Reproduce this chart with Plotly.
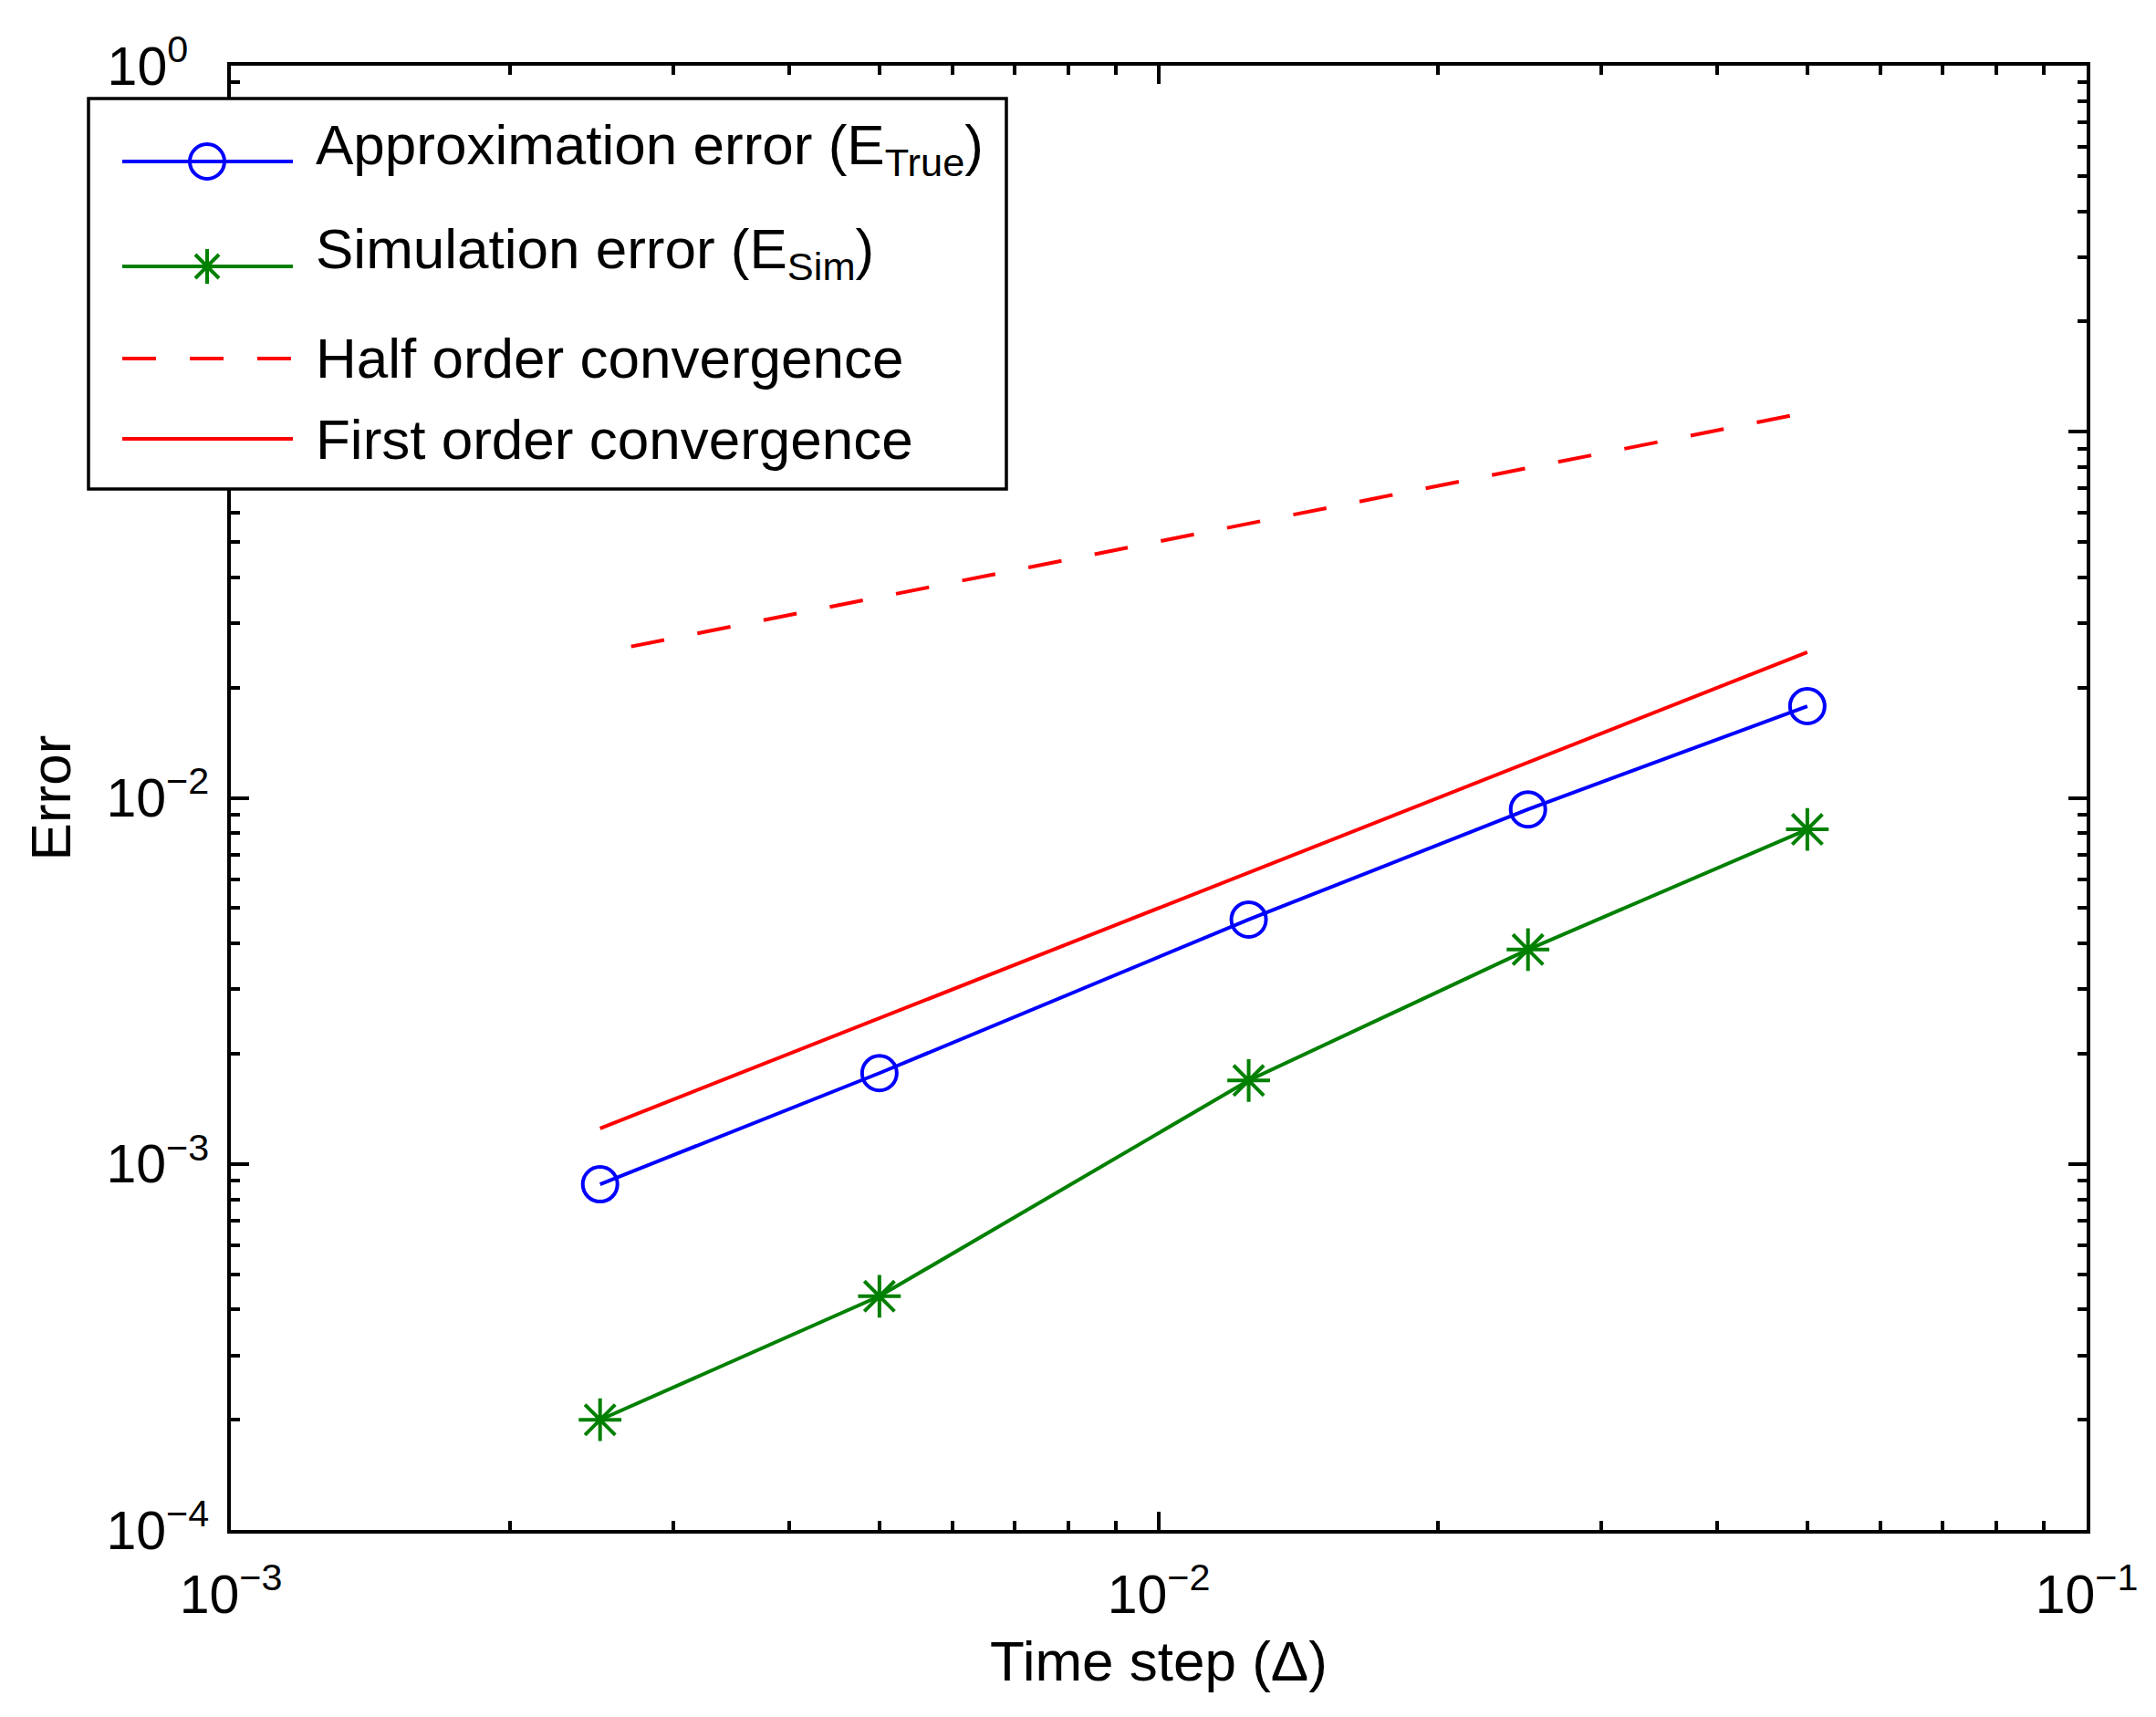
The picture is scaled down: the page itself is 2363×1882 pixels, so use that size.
import plotly.graph_objects as go

# time steps and measured errors
dt = [0.0025, 0.005, 0.0125, 0.025, 0.05]
err_true = [8.8e-4, 1.77e-3, 4.65e-3, 9.3e-3, 1.78e-2]
err_sim = [2.0e-4, 4.35e-4, 1.69e-3, 3.85e-3, 8.2e-3]

# reference slopes
half_x = [0.0027, 0.05]
half_y = [0.0259, 0.113]
first_x = [0.0025, 0.05]
first_y = [1.25e-3, 2.5e-2]

names = [
    "Approximation error (E<sub>True</sub>)",
    "Simulation error (E<sub>Sim</sub>)",
    "Half order convergence",
    "First order convergence",
]

x_decades = [1e-3, 1e-2, 1e-1]
x_labels = ["10<sup>\u22123</sup>", "10<sup>\u22122</sup>", "10<sup>\u22121</sup>"]
y_decades = [1e-4, 1e-3, 1e-2, 1e-1, 1e0]
y_labels = ["10<sup>\u22124</sup>", "10<sup>\u22123</sup>", "10<sup>\u22122</sup>", "",
            "10<sup>0\u2007</sup>"]

font = "Liberation Sans, Arial, Helvetica, sans-serif"
BLUE, GREEN, RED = "#0000ff", "#008000", "#ff0000"
LW = 4

# page has an 8px body margin, so the figure is a bit smaller than the window
OFF = 8
W, H = 2355, 1874
L, R, T, B = 245, 76, 64, 205
PW, PH = W - L - R, H - T - B


def px(x):
    return (x - OFF - L) / PW


def py(y):
    return 1 - (y - OFF - T) / PH


x_minor = [m * d for d in x_decades[:-1] for m in range(2, 10)]
y_minor = [m * d for d in y_decades[:-1] for m in range(2, 10)]

fig = go.Figure()
fig.add_trace(go.Scatter(
    x=dt, y=err_true, mode="lines+markers", name=names[0],
    line=dict(color=BLUE, width=LW),
    marker=dict(symbol="circle-open", size=38, color=BLUE, line=dict(width=LW)),
))
fig.add_trace(go.Scatter(
    x=dt, y=err_sim, mode="lines+markers", name=names[1],
    line=dict(color=GREEN, width=LW),
    marker=dict(symbol="asterisk-open", size=39, color=GREEN, line=dict(width=LW, color=GREEN)),
))
fig.add_trace(go.Scatter(
    x=half_x, y=half_y, mode="lines", name=names[2],
    line=dict(color=RED, width=LW, dash="37px,37px"),
))
fig.add_trace(go.Scatter(
    x=first_x, y=first_y, mode="lines", name=names[3],
    line=dict(color=RED, width=LW),
))

axis_common = dict(
    type="log", showline=True, linecolor="black", linewidth=4, mirror="allticks",
    ticks="inside", ticklen=20, tickwidth=3.5, tickcolor="black",
    showgrid=False, zeroline=False, tickmode="array",
    tickfont=dict(family=font, size=59, color="black"),
)
minor_common = dict(tickmode="array", ticks="inside", ticklen=10,
                    tickwidth=3.5, tickcolor="black", showgrid=False)

fig.update_xaxes(
    **axis_common, range=[-3, -1], tickvals=x_decades, ticktext=x_labels,
    ticklabelstandoff=16,
    minor=dict(**minor_common, tickvals=x_minor),
    title=dict(text="Time step (\u0394)", font=dict(family=font, size=62, color="black"), standoff=20),
)
fig.update_yaxes(
    **axis_common, range=[-4, 0], tickvals=y_decades, ticktext=y_labels,
    ticklabelstandoff=8,
    minor=dict(**minor_common, tickvals=y_minor),
    title=dict(text="Error", font=dict(family=font, size=62, color="black"), standoff=20),
)

# hand-drawn legend box (MATLAB style, full-size markers)
shapes = [dict(
    type="rect", xref="paper", yref="paper", layer="above",
    x0=px(97), x1=px(1103), y0=py(536), y1=py(108),
    fillcolor="white", line=dict(color="black", width=3.5),
)]
annotations = []
rows = [
    (177, 163, BLUE, "solid", "circle"),
    (292, 277, GREEN, "solid", "asterisk"),
    (393, 393, RED, "37px,37px", None),
    (481, 481, RED, "solid", None),
]
for (line_y, text_y, color, dash, sym), name in zip(rows, names):
    shapes.append(dict(
        type="line", xref="paper", yref="paper", layer="above",
        x0=px(134), x1=px(321), y0=py(line_y), y1=py(line_y),
        line=dict(color=color, width=LW, dash=dash),
    ))
    if sym == "circle":
        shapes.append(dict(
            type="circle", xref="paper", yref="paper", layer="above",
            xsizemode="pixel", ysizemode="pixel", xanchor=px(227), yanchor=py(line_y),
            x0=-19, x1=19, y0=-19, y1=19, line=dict(color=color, width=LW),
        ))
    elif sym == "asterisk":
        shapes.append(dict(
            type="path", xref="paper", yref="paper", layer="above",
            xsizemode="pixel", ysizemode="pixel", xanchor=px(227), yanchor=py(line_y),
            path="M-19,0L19,0M0,-19L0,19M-13,-13L13,13M-13,13L13,-13",
            line=dict(color=color, width=LW),
        ))
    annotations.append(dict(
        xref="paper", yref="paper", x=px(344), y=py(text_y),
        xanchor="left", yanchor="middle", showarrow=False, text=name,
        font=dict(family=font, size=62, color="black"),
    ))

fig.update_layout(
    width=W, height=H,
    margin=dict(l=L, r=R, t=T, b=B),
    plot_bgcolor="white", paper_bgcolor="white",
    font=dict(family=font, size=59, color="black"),
    showlegend=False,
    shapes=shapes, annotations=annotations,
)

fig.write_html("out.html")
